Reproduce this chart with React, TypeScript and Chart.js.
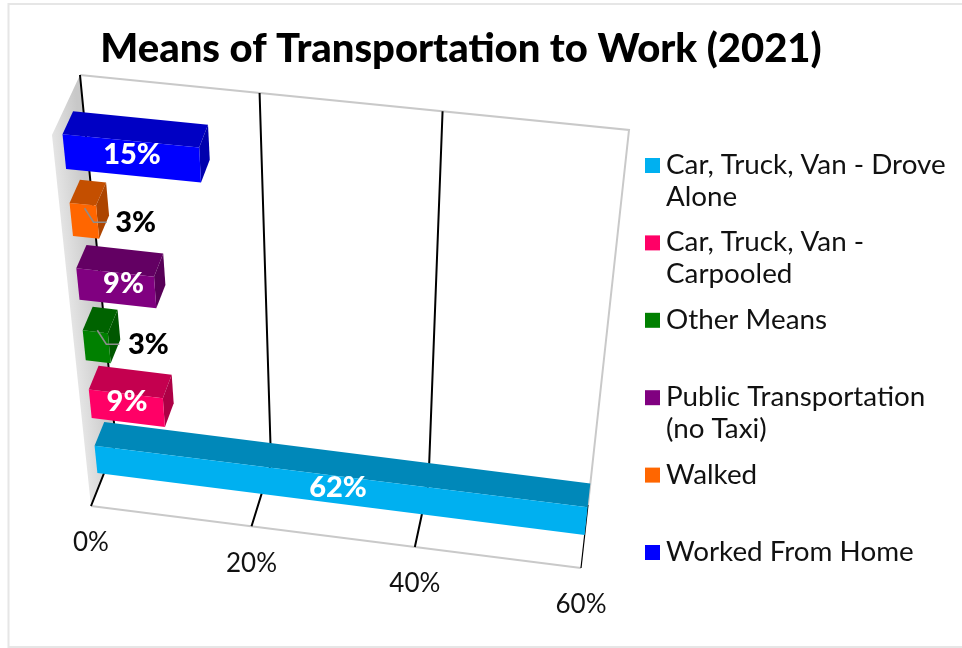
import React, { useEffect, useRef } from "react";
import { Chart, registerables } from "chart.js";

Chart.register(...registerables);

const title = "Means of Transportation to Work (2021)";
const categories = [
  "Car, Truck, Van - Drove Alone",
  "Car, Truck, Van - Carpooled",
  "Other Means",
  "Public Transportation (no Taxi)",
  "Walked",
  "Worked From Home",
];
const shares = [62, 9, 3, 9, 3, 15];
const colors = ["#00B0F0", "#FF0066", "#008000", "#800080", "#FF6600", "#0000FF"];
const legendLines = [
  ["Car, Truck, Van - Drove", "Alone"],
  ["Car, Truck, Van -", "Carpooled"],
  ["Other Means"],
  ["Public Transportation", "(no Taxi)"],
  ["Walked"],
  ["Worked From Home"],
];
const axisMax = 60;
const axisStep = 20;

const FONT = "Lato, sans-serif";
type Pt = [number, number];

function homography(q: Pt[]) {
  const [[x0, y0], [x1, y1], [x2, y2], [x3, y3]] = q;
  const dx1 = x1 - x2, dx2 = x3 - x2, sx = x0 - x1 + x2 - x3;
  const dy1 = y1 - y2, dy2 = y3 - y2, sy = y0 - y1 + y2 - y3;
  const den = dx1 * dy2 - dx2 * dy1;
  const g = (sx * dy2 - dx2 * sy) / den;
  const h = (dx1 * sy - sx * dy1) / den;
  const a = x1 - x0 + g * x1, b = x3 - x0 + h * x3;
  const d = y1 - y0 + g * y1, e = y3 - y0 + h * y3;
  return (u: number, v: number): Pt => {
    const w = g * u + h * v + 1;
    return [(a * u + b * v + x0) / w, (d * u + e * v + y0) / w];
  };
}

const wallMap = homography([[80, 75], [629, 130], [588, 505], [116, 443]]);
const frontMap = homography([[52, 135], [622, 188], [581, 568], [91, 506]]);
const project = (uRaw: number, v: number, d: number): Pt => {
  const u = uRaw + 0.018 * uRaw * (1 - uRaw);
  const a = wallMap(u, v), b = frontMap(u, v);
  return [a[0] + (b[0] - a[0]) * d, a[1] + (b[1] - a[1]) * d];
};

const DEPTH_BACK = 0.31;
const DEPTH_FRONT = 0.69;
const LABEL_NUDGE: Pt[] = [[0, -2], [0, -7], [1, -4], [7, -5], [0, 0], [0, -4]];

function shade(hex: string, f: number) {
  const n = parseInt(hex.slice(1), 16);
  const c = [(n >> 16) & 255, (n >> 8) & 255, n & 255].map((x) => Math.round(x * f));
  return `rgb(${c[0]},${c[1]},${c[2]})`;
}

function poly(ctx: CanvasRenderingContext2D, pts: Pt[], fill: any) {
  ctx.beginPath();
  pts.forEach((p, i) => (i ? ctx.lineTo(p[0], p[1]) : ctx.moveTo(p[0], p[1])));
  ctx.closePath();
  ctx.fillStyle = fill;
  ctx.fill();
}

function line(ctx: CanvasRenderingContext2D, pts: Pt[], color: string, w: number) {
  ctx.beginPath();
  pts.forEach((p, i) => (i ? ctx.lineTo(p[0], p[1]) : ctx.moveTo(p[0], p[1])));
  ctx.strokeStyle = color;
  ctx.lineWidth = w;
  ctx.stroke();
}

const scenePlugin = {
  id: "scene3d",
  beforeDraw(chart: any) {
    const ctx = chart.ctx;
    ctx.save();
    ctx.fillStyle = "#fff";
    ctx.fillRect(0, 0, chart.width, chart.height);
    ctx.strokeStyle = "#E6E6E6";
    ctx.lineWidth = 2;
    ctx.strokeRect(8.5, 4, 970, 643);
    ctx.restore();
  },
  beforeDatasetsDraw(chart: any) {
    const ctx = chart.ctx;
    const xs = chart.scales.x;
    const { left, width } = chart.chartArea;
    ctx.save();
    const grad = ctx.createLinearGradient(52, 135, 80, 132);
    grad.addColorStop(0, "#E4E4E4");
    grad.addColorStop(1, "#C8C8C8");
    poly(ctx, [project(0, 0, 0), project(0, 0, 1), project(0, 1, 1), project(0, 1, 0)], grad);
    line(ctx, [project(0, 0, 0), project(1, 0, 0), project(1, 1, 0)], "#C9C9C9", 2);
    line(ctx, [project(0, 1, 1), project(1, 1, 1)], "#C9C9C9", 2);
    xs.ticks.forEach((t: any) => {
      const u = (xs.getPixelForValue(t.value) - left) / width;
      const last = u > 0.999;
      if (!last) {
        line(ctx, [project(u, 0, 0), project(u, 1, 0), project(u, 1, 1)], "#000", 2);
      } else {
        line(ctx, [project(u, 1, 0), project(u, 1, 1)], "#000", 1.2);
      }
      const p = project(u, 1, 1);
      ctx.font = `26px ${FONT}`;
      ctx.fillStyle = "#111";
      ctx.textAlign = "center";
      ctx.textBaseline = "middle";
      ctx.fillText(t.label, p[0], p[1] + 37);
    });
    ctx.restore();
  },
  beforeDatasetDraw(chart: any, args: any) {
    const ctx = chart.ctx;
    const { left, top, width, height } = chart.chartArea;
    const meta = chart.getDatasetMeta(args.index);
    const ds = chart.data.datasets[args.index];
    ctx.save();
    const order = meta.data.map((_: any, i: number) => i).reverse();
    order.forEach((i: number) => {
      const el = meta.data[i];
      const p = el.getProps(["x", "y", "base", "height"], true);
      const u1Raw = (p.x - left) / width;
      const clipped = u1Raw > 1;
      const u1 = Math.min(u1Raw, 1);
      const u0 = (p.base - left) / width;
      const vT = (p.y - p.height / 2 - top) / height;
      const vB = (p.y + p.height / 2 - top) / height;
      const c = ds.backgroundColor[i];
      const P = (u: number, v: number, d: number) => project(u, v, d);
      poly(ctx, [P(u0, vT, DEPTH_BACK), P(u1, vT, DEPTH_BACK), P(u1, vT, DEPTH_FRONT), P(u0, vT, DEPTH_FRONT)], shade(c, 0.77));
      if (!clipped) {
        poly(ctx, [P(u1, vT, DEPTH_BACK), P(u1, vB, DEPTH_BACK), P(u1, vB, DEPTH_FRONT), P(u1, vT, DEPTH_FRONT)], shade(c, 0.68));
      }
      poly(ctx, [P(u0, vT, DEPTH_FRONT), P(u1, vT, DEPTH_FRONT), P(u1, vB, DEPTH_FRONT), P(u0, vB, DEPTH_FRONT)], c);
    });
    ctx.textAlign = "center";
    ctx.textBaseline = "middle";
    ctx.font = `900 29px ${FONT}`;
    meta.data.forEach((el: any, i: number) => {
      const p = el.getProps(["x", "y", "base", "height"], true);
      const u1 = Math.min((p.x - left) / width, 1);
      const u0 = (p.base - left) / width;
      const v = (p.y - top) / height;
      const text = `${ds.data[i]}%`;
      if (ds.data[i] < 5) {
        const end = project(u1, v, DEPTH_FRONT);
        const lx = end[0] + 38 + LABEL_NUDGE[i][0];
        const ly = end[1] + LABEL_NUDGE[i][1];
        line(ctx, [[lx - 51, ly - 14], [lx - 42, ly], [lx - 29, ly]], "#8C8C8C", 1.6);
        ctx.fillStyle = "#000";
        ctx.fillText(text, lx, ly);
      } else {
        const m = project((u0 + u1) / 2, v, DEPTH_FRONT);
        ctx.fillStyle = "#fff";
        ctx.fillText(text, m[0] + LABEL_NUDGE[i][0], m[1] + LABEL_NUDGE[i][1]);
      }
    });
    ctx.restore();
    return false;
  },
  afterDraw(chart: any) {
    const ctx = chart.ctx;
    const colorsList = chart.data.datasets[0].backgroundColor;
    ctx.save();
    ctx.font = `27.8px ${FONT}`;
    ctx.textAlign = "left";
    ctx.textBaseline = "middle";
    legendLines.forEach((lines, i) => {
      const y = 165 + i * 77.4;
      ctx.fillStyle = colorsList[i];
      ctx.fillRect(645, y - 7, 15, 15);
      ctx.fillStyle = "#111";
      lines.forEach((l, j) => ctx.fillText(l, 666, y + j * 32));
    });
    ctx.restore();
  },
};

export default function App() {
  const ref = useRef<HTMLCanvasElement>(null);
  useEffect(() => {
    const chart = new Chart(ref.current as HTMLCanvasElement, {
      type: "bar",
      data: {
        labels: categories,
        datasets: [{ label: "Share", data: shares, backgroundColor: colors }],
      },
      options: {
        indexAxis: "y",
        responsive: false,
        animation: false,
        layout: { padding: { left: 80, right: 120, top: 8, bottom: 10 } },
        datasets: { bar: { categoryPercentage: 1, barPercentage: 0.5 } },
        scales: {
          x: {
            min: 0,
            max: axisMax,
            ticks: { display: false, stepSize: axisStep, callback: (v: any) => `${v}%` },
            grid: { display: false },
            border: { display: false },
          },
          y: {
            reverse: true,
            ticks: { display: false },
            grid: { display: false },
            border: { display: false },
          },
        },
        plugins: {
          legend: { display: false },
          tooltip: { enabled: false },
          title: {
            display: true,
            text: title,
            color: "#000",
            font: { family: "Lato, sans-serif", size: 40, weight: 900 },
            padding: { top: 17, bottom: 10 },
          },
        },
      } as any,
      plugins: [scenePlugin as any],
    });
    return () => chart.destroy();
  }, []);
  return (
    <div style={{ position: "fixed", left: 0, top: 0, width: 962, height: 648, overflow: "hidden", background: "#fff" }}>
      <canvas ref={ref} width={962} height={648} style={{ display: "block" }} />
    </div>
  );
}
